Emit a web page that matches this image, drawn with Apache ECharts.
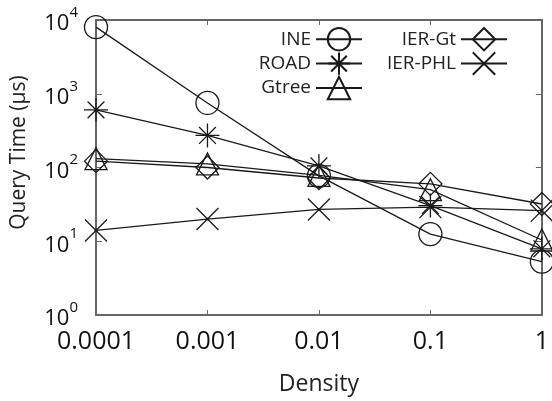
<!DOCTYPE html>
<html><head><meta charset="utf-8">
<script src="https://cdn.jsdelivr.net/npm/echarts@6/dist/echarts.min.js"></script>
<style>html,body{margin:0;padding:0;background:#fff}#c{width:552px;height:401px}</style>
</head><body><div id="c"></div>
<script>
const densities = [0.0001, 0.001, 0.01, 0.1, 1];
const xTickLabels = ['0.0001', '0.001', '0.01', '0.1', '1'];
const yTickExponents = ['0', '1', '2', '3', '4'];
const ine    = [8000, 750, 77, 12.5, 5.3];
const road   = [605, 272, 105, 30.5, 7.9];
const gtree  = [132, 112, 78, 50, 10.4];
const ierGt  = [122, 100, 72, 60, 32];
const ierPhl = [14, 20, 27, 29, 26];

const FONT = 'Open Sans';
const INK = '#1a1a1a';
const AX = '#666';

const ASTER = 'path://M10,0L10,20M0,10L20,10M3,3L17,17M17,3L3,17M9.2,9.2h1.6v1.6h-1.6z';
const CROSS = 'path://M0,0L20,20M20,0L0,20M9.2,9.2h1.6v1.6h-1.6z';

function mk(name, vals, symbol, size, fill) {
  return {
    name, type: 'line',
    data: densities.map((d, i) => [d, vals[i]]),
    symbol, symbolSize: size,
    showAllSymbol: true,
    lineStyle: { color: INK, width: 1.3 },
    itemStyle: { color: fill, borderColor: INK, borderWidth: 1.3 },
    emphasis: { disabled: true }
  };
}

const chart = echarts.init(document.getElementById('c'));
const legendCommon = {
  orient: 'vertical', align: 'right', itemWidth: 46, itemHeight: 28, itemGap: 0,
  textStyle: { fontFamily: FONT, fontSize: 19, color: '#222' },
  selectedMode: false
};
chart.setOption({
  animation: false,
  textStyle: { fontFamily: FONT },
  grid: { left: 96, right: 9, top: 20, bottom: 82 },
  legend: [
    Object.assign({ data: ['INE', 'ROAD', 'Gtree'], right: 184, top: 22 }, legendCommon),
    Object.assign({ data: ['IER-Gt', 'IER-PHL'], right: 39, top: 22 }, legendCommon)
  ],
  xAxis: [{
    type: 'log', logBase: 10, min: 0.0001, max: 1,
    name: 'Density', nameLocation: 'middle', nameGap: 58,
    nameTextStyle: { fontFamily: FONT, fontSize: 23, color: '#222' },
    axisLine: { lineStyle: { color: AX, width: 2 } },
    axisTick: { inside: true, length: 5, lineStyle: { color: AX } },
    axisLabel: { fontFamily: FONT, fontSize: 25, color: '#111', margin: 14,
      formatter: (v, i) => xTickLabels[i] },
    splitLine: { show: false }
  }, {
    type: 'log', logBase: 10, min: 0.0001, max: 1, position: 'top',
    axisLine: { lineStyle: { color: AX, width: 2 } },
    axisTick: { inside: true, length: 5, lineStyle: { color: AX } },
    axisLabel: { show: false }, splitLine: { show: false }
  }],
  yAxis: [{
    type: 'log', logBase: 10, min: 1, max: 10000,
    name: 'Query Time (μs)', nameLocation: 'middle', nameGap: 66, nameRotate: 90,
    nameTextStyle: { fontFamily: FONT, fontSize: 21, color: '#222', padding: [0, 0, 0, 30] },
    axisLine: { lineStyle: { color: AX, width: 2 } },
    axisTick: { inside: true, length: 6, lineStyle: { color: AX } },
    axisLabel: { margin: 18, color: '#111',
      formatter: (v, i) => '{b|10}{s|' + yTickExponents[i] + '}',
      rich: {
        b: { fontFamily: FONT, fontSize: 22, color: '#111', lineHeight: 30, verticalAlign: 'bottom' },
        s: { fontFamily: FONT, fontSize: 15, color: '#111', lineHeight: 30, verticalAlign: 'top' }
      }
    },
    splitLine: { show: false }
  }, {
    type: 'log', logBase: 10, min: 1, max: 10000, position: 'right',
    axisLine: { lineStyle: { color: AX, width: 2 } },
    axisTick: { inside: true, length: 6, lineStyle: { color: AX } },
    axisLabel: { show: false }, splitLine: { show: false }
  }],
  series: [
    mk('INE', ine, 'circle', 23, 'transparent'),
    mk('ROAD', road, ASTER, 24, INK),
    mk('Gtree', gtree, 'triangle', 22, 'transparent'),
    mk('IER-Gt', ierGt, 'diamond', 23, 'transparent'),
    mk('IER-PHL', ierPhl, CROSS, 22, INK)
  ]
});
</script></body></html>
